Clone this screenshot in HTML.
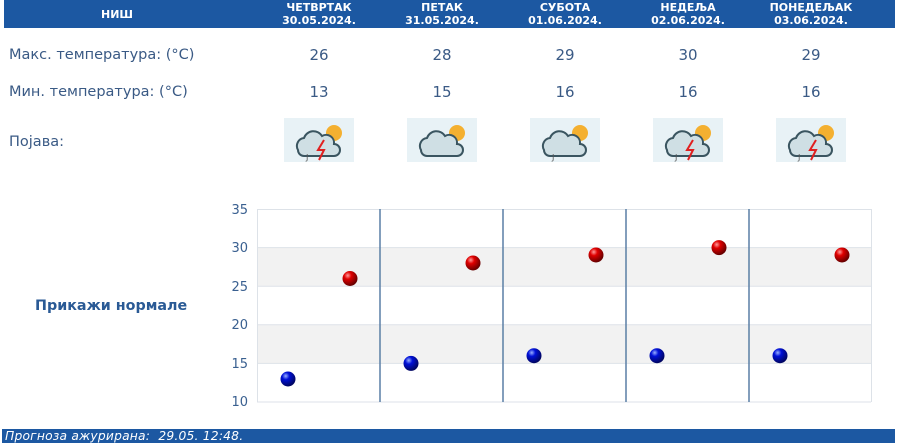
<!DOCTYPE html>
<html><head><meta charset="utf-8"><style>
body{margin:0;width:900px;height:445px;background:#fff;font-family:"DejaVu Sans","Liberation Sans",sans-serif;position:relative;overflow:hidden}
.hdr{position:absolute;left:4px;top:0;width:891px;height:28px;background:#1c58a2}
.h{position:absolute;top:1px;width:130px;text-align:center;color:#fff;font-weight:bold;font-size:11px;line-height:13px}
.lab{position:absolute;left:9px;color:#3a5a85;font-size:14.5px}
.v{position:absolute;width:60px;text-align:center;color:#3a5a85;font-size:15px}
.ic{position:absolute;top:118px;width:70px;height:44px;background:#e8f2f6}
.ft{position:absolute;left:2px;top:429px;width:893px;height:14px;background:#1c58a2;color:#fff;font-style:italic;font-size:12.3px;letter-spacing:0.2px;line-height:14px;padding-left:3px;box-sizing:border-box}
</style></head><body>
<div class="hdr"></div>
<div class="h" style="left:52px;top:8px">НИШ</div>
<div class="h" style="left:254px">ЧЕТВРТАК<br>30.05.2024.</div>
<div class="h" style="left:377px">ПЕТАК<br>31.05.2024.</div>
<div class="h" style="left:500px">СУБОТА<br>01.06.2024.</div>
<div class="h" style="left:623px">НЕДЕЉА<br>02.06.2024.</div>
<div class="h" style="left:746px">ПОНЕДЕЉАК<br>03.06.2024.</div>
<div class="lab" style="top:47px">Макс. температура: (°C)</div>
<div class="lab" style="top:84px">Мин. температура: (°C)</div>
<div class="lab" style="top:134px">Појава:</div>
<div class="v" style="left:289px;top:46px">26</div><div class="v" style="left:412px;top:46px">28</div><div class="v" style="left:535px;top:46px">29</div><div class="v" style="left:658px;top:46px">30</div><div class="v" style="left:781px;top:46px">29</div>
<div class="v" style="left:289px;top:83px">13</div><div class="v" style="left:412px;top:83px">15</div><div class="v" style="left:535px;top:83px">16</div><div class="v" style="left:658px;top:83px">16</div><div class="v" style="left:781px;top:83px">16</div>
<svg width="0" height="0" style="position:absolute"><defs>
<radialGradient id="rg" cx="35%" cy="30%" r="70%"><stop offset="0" stop-color="#ff9a9a"/><stop offset=".35" stop-color="#e00000"/><stop offset="1" stop-color="#600"/></radialGradient>
<radialGradient id="bg" cx="35%" cy="30%" r="70%"><stop offset="0" stop-color="#9ab0ff"/><stop offset=".35" stop-color="#0010d8"/><stop offset="1" stop-color="#000560"/></radialGradient>
<g id="cl"><circle cx="50" cy="15" r="8" fill="#f4b030"/><path d="M14 32 a8 8 0 0 1 6-12 a10 10 0 0 1 18-2 a8 8 0 0 1 12 8 a6 6 0 0 1 0 12 h-30 a6 6 0 0 1-6-6z" fill="#cfdfe4" stroke="#3a5560" stroke-width="2"/></g>
</defs></svg>
<div class="ic" style="left:284px"><svg width="70" height="44"><use href="#cl"/><path d="M40 22 l-6 10 h6 l-5 10" stroke="#e02020" stroke-width="2" fill="none"/><text x="22" y="42" font-size="8" fill="#555">J</text></svg></div>
<div class="ic" style="left:407px"><svg width="70" height="44"><use href="#cl"/></svg></div>
<div class="ic" style="left:530px"><svg width="70" height="44"><use href="#cl"/><text x="22" y="42" font-size="8" fill="#555">J</text></svg></div>
<div class="ic" style="left:653px"><svg width="70" height="44"><use href="#cl"/><path d="M40 22 l-6 10 h6 l-5 10" stroke="#e02020" stroke-width="2" fill="none"/><text x="22" y="42" font-size="8" fill="#555">J</text></svg></div>
<div class="ic" style="left:776px"><svg width="70" height="44"><use href="#cl"/><path d="M40 22 l-6 10 h6 l-5 10" stroke="#e02020" stroke-width="2" fill="none"/><text x="22" y="42" font-size="8" fill="#555">J</text></svg></div>
<div style="position:absolute;left:35px;top:298px;color:#2a5a95;font-weight:bold;font-size:14.3px">Прикажи нормале</div>
<svg style="position:absolute;left:0;top:0" width="900" height="445">
<rect x="257" y="247.6" width="614" height="38.6" fill="#f2f2f2"/>
<rect x="257" y="324.8" width="614" height="38.6" fill="#f2f2f2"/>
<g stroke="#dde2e8" stroke-width="1">
<line x1="257" y1="209.5" x2="871" y2="209.5"/><line x1="257" y1="247.6" x2="871" y2="247.6"/><line x1="257" y1="286.2" x2="871" y2="286.2"/><line x1="257" y1="324.8" x2="871" y2="324.8"/><line x1="257" y1="363.4" x2="871" y2="363.4"/><line x1="257" y1="402" x2="871" y2="402"/>
<line x1="257.5" y1="209" x2="257.5" y2="402"/><line x1="871.5" y1="209" x2="871.5" y2="402"/></g>
<g stroke="#5a7fa5" stroke-width="1.5"><line x1="380" y1="209" x2="380" y2="402"/><line x1="503" y1="209" x2="503" y2="402"/><line x1="626" y1="209" x2="626" y2="402"/><line x1="749" y1="209" x2="749" y2="402"/></g>
<g fill="#3a6090" font-size="13" text-anchor="end" font-family="DejaVu Sans,sans-serif">
<text x="248" y="214">35</text><text x="248" y="252">30</text><text x="248" y="291">25</text><text x="248" y="329">20</text><text x="248" y="368">15</text><text x="248" y="406">10</text></g>
<g fill="url(#rg)"><circle cx="350" cy="278.5" r="7.5"/><circle cx="473" cy="263" r="7.5"/><circle cx="596" cy="255" r="7.5"/><circle cx="719" cy="247.6" r="7.5"/><circle cx="842" cy="255" r="7.5"/></g>
<g fill="url(#bg)"><circle cx="288" cy="379" r="7.5"/><circle cx="411" cy="363.4" r="7.5"/><circle cx="534" cy="355.7" r="7.5"/><circle cx="657" cy="355.7" r="7.5"/><circle cx="780" cy="355.7" r="7.5"/></g>
</svg>
<div class="ft">Прогноза ажурирана:&nbsp; 29.05. 12:48.</div>
</body></html>
